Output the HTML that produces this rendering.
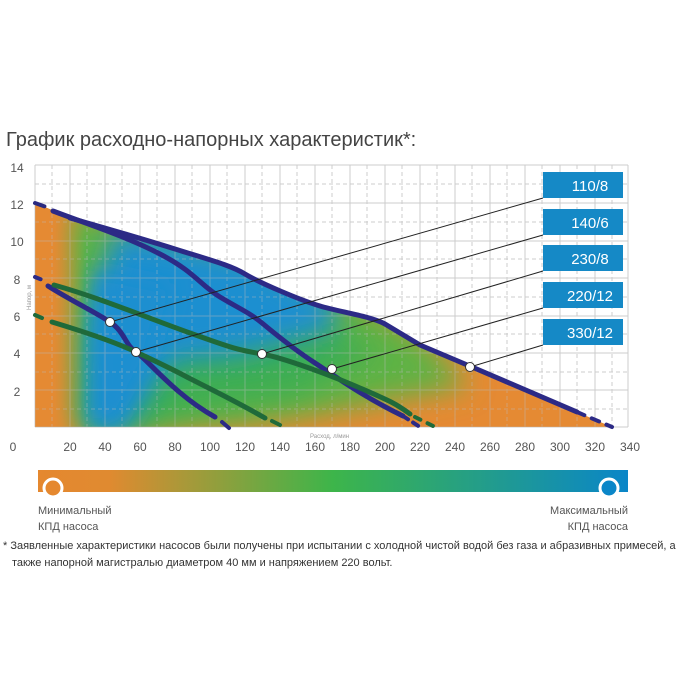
<!DOCTYPE html>
<html><head><meta charset="utf-8"><style>
html,body{margin:0;padding:0;background:#fff;}
body{width:700px;height:700px;position:relative;overflow:hidden;font-family:"Liberation Sans","DejaVu Sans",sans-serif;}
svg{position:absolute;left:0;top:0;}
</style></head><body>
<svg width="700" height="700" viewBox="0 0 700 700" xmlns="http://www.w3.org/2000/svg">
<defs>
<clipPath id="reg"><path d="M35,203 L52,210 L70,217 L105,228 L140,238 L175,249 L210,261 L245,274 L280,291 L315,305 L350,315 L385,324 L420,345 L472,367 L525,390 L577,412 L612,427 L35,427 Z"/></clipPath>
<filter id="bl" x="-50%" y="-50%" width="200%" height="200%"><feGaussianBlur stdDeviation="14"/></filter>
<filter id="bl2" x="-50%" y="-50%" width="200%" height="200%"><feGaussianBlur stdDeviation="10"/></filter>
<linearGradient id="lg" x1="35" y1="0" x2="85" y2="0" gradientUnits="userSpaceOnUse"><stop offset="0" stop-color="#e58a33" stop-opacity="1"/><stop offset="0.35" stop-color="#e58a33" stop-opacity="1"/><stop offset="1" stop-color="#e58a33" stop-opacity="0"/></linearGradient>
<linearGradient id="bar" x1="0" y1="0" x2="1" y2="0"><stop offset="0" stop-color="#e5882f"/><stop offset="0.12" stop-color="#e08a30"/><stop offset="0.5" stop-color="#3db54a"/><stop offset="1" stop-color="#0a86c8"/></linearGradient>
<g id="grid">
<g stroke-width="1">
<line x1="35" y1="165" x2="628" y2="165"/><line x1="35" y1="203" x2="628" y2="203"/><line x1="35" y1="241" x2="628" y2="241"/><line x1="35" y1="278" x2="628" y2="278"/><line x1="35" y1="316" x2="628" y2="316"/><line x1="35" y1="353" x2="628" y2="353"/><line x1="35" y1="390" x2="628" y2="390"/><line x1="35" y1="427" x2="628" y2="427"/>
<line x1="35" y1="165" x2="35" y2="427"/><line x1="70" y1="165" x2="70" y2="427"/><line x1="105" y1="165" x2="105" y2="427"/><line x1="140" y1="165" x2="140" y2="427"/><line x1="175" y1="165" x2="175" y2="427"/><line x1="210" y1="165" x2="210" y2="427"/><line x1="245" y1="165" x2="245" y2="427"/><line x1="280" y1="165" x2="280" y2="427"/><line x1="315" y1="165" x2="315" y2="427"/><line x1="350" y1="165" x2="350" y2="427"/><line x1="385" y1="165" x2="385" y2="427"/><line x1="420" y1="165" x2="420" y2="427"/><line x1="455" y1="165" x2="455" y2="427"/><line x1="490" y1="165" x2="490" y2="427"/><line x1="525" y1="165" x2="525" y2="427"/><line x1="560" y1="165" x2="560" y2="427"/><line x1="595" y1="165" x2="595" y2="427"/><line x1="628" y1="165" x2="628" y2="427"/>
</g>
<g stroke-width="1" stroke-dasharray="4,3">
<line x1="35" y1="184" x2="628" y2="184"/><line x1="35" y1="222" x2="628" y2="222"/><line x1="35" y1="259" x2="628" y2="259"/><line x1="35" y1="297" x2="628" y2="297"/><line x1="35" y1="334" x2="628" y2="334"/><line x1="35" y1="372" x2="628" y2="372"/><line x1="35" y1="409" x2="628" y2="409"/>
<line x1="52" y1="165" x2="52" y2="427"/><line x1="87" y1="165" x2="87" y2="427"/><line x1="122" y1="165" x2="122" y2="427"/><line x1="157" y1="165" x2="157" y2="427"/><line x1="192" y1="165" x2="192" y2="427"/><line x1="227" y1="165" x2="227" y2="427"/><line x1="262" y1="165" x2="262" y2="427"/><line x1="297" y1="165" x2="297" y2="427"/><line x1="332" y1="165" x2="332" y2="427"/><line x1="367" y1="165" x2="367" y2="427"/><line x1="402" y1="165" x2="402" y2="427"/><line x1="437" y1="165" x2="437" y2="427"/><line x1="472" y1="165" x2="472" y2="427"/><line x1="507" y1="165" x2="507" y2="427"/><line x1="542" y1="165" x2="542" y2="427"/><line x1="577" y1="165" x2="577" y2="427"/><line x1="612" y1="165" x2="612" y2="427"/>
</g>
</g>
</defs>
<text x="6" y="146" font-size="20" fill="#444">График расходно-напорных характеристик*:</text>
<use href="#grid" stroke="#ccc"/>
<g clip-path="url(#reg)">
<rect x="35" y="165" width="600" height="270" fill="#e58a33"/>
<polygon points="55,205 300,270 420,335 470,385 330,412 240,425 110,430 60,430 55,330" fill="#5fb244" filter="url(#bl)"/>
<polygon points="85,300 300,320 380,350 300,395 200,410 130,430 80,430" fill="#3cae52" filter="url(#bl)"/>
<polygon points="115,228 250,255 335,300 335,330 240,355 170,362 125,430 90,430 88,340 100,280" fill="#1a8fd0" filter="url(#bl)"/>
<polygon points="95,270 170,285 150,360 118,425 92,425" fill="#1a8fd0" filter="url(#bl2)"/>
<rect x="35" y="165" width="50" height="270" fill="url(#lg)"/>
<use href="#grid" stroke="#bbb" opacity="0.45"/>
</g>
<g fill="none" stroke-linecap="round" stroke-linejoin="round">
<path d="M35,203 L49,208" stroke="#2a2a80" stroke-width="4" stroke-dasharray="10,6"/>
<path d="M70,218 C105,228 140,238 175,249 S230,265 245,274 S300,300 320,306 S370,316 385,324 L420,345 L472,367 L577,412" stroke="#2c2a86" stroke-width="5"/>
<path d="M577,412 L612,427" stroke="#2c2a86" stroke-width="4" stroke-dasharray="8,8"/>
<path d="M53,211 C90,225 125,236 160,254 S200,285 220,297 S250,313 262,323 S295,350 315,363 S360,395 403,416" stroke="#2c2a86" stroke-width="5"/>
<path d="M403,416 L420,427" stroke="#2c2a86" stroke-width="4" stroke-dasharray="6,6"/>
<path d="M35,277 L45,281" stroke="#2c2a86" stroke-width="4" stroke-dasharray="6,5"/>
<path d="M48,286 C70,300 95,312 110,322 S125,345 136,352 S175,395 215,417" stroke="#2c2a86" stroke-width="5"/>
<path d="M222,422 L229,428" stroke="#2c2a86" stroke-width="4"/>
<path d="M54,285 C100,298 140,315 190,333 S240,350 262,354 S330,375 360,388 S395,403 410,414" stroke="#1f6a3a" stroke-width="5"/>
<path d="M415,417 L437,428" stroke="#1f6a3a" stroke-width="4" stroke-dasharray="6,8"/>
<path d="M35,315 L42,318" stroke="#1f6a3a" stroke-width="4"/>
<path d="M52,322 C85,332 115,342 136,352 S170,368 185,376 S230,398 265,418" stroke="#1f6a3a" stroke-width="5"/>
<path d="M272,421 L280,425" stroke="#1f6a3a" stroke-width="4"/>
</g>
<g stroke="#222" stroke-width="1">
<line x1="110" y1="322" x2="543" y2="198"/><line x1="136" y1="352" x2="543" y2="235"/><line x1="262" y1="354" x2="543" y2="271"/><line x1="332" y1="369" x2="543" y2="308"/><line x1="470" y1="367" x2="543" y2="345"/>
</g>
<g fill="#fff" stroke="#333" stroke-width="1"><circle cx="110" cy="322" r="4.5"/><circle cx="136" cy="352" r="4.5"/><circle cx="262" cy="354" r="4.5"/><circle cx="332" cy="369" r="4.5"/><circle cx="470" cy="367" r="4.5"/></g>
<g fill="#1589c6"><rect x="543" y="172" width="80" height="26"/><rect x="543" y="209" width="80" height="26"/><rect x="543" y="245" width="80" height="26"/><rect x="543" y="282" width="80" height="26"/><rect x="543" y="319" width="80" height="26"/></g>
<g fill="#fff" font-size="15" text-anchor="middle"><text x="590" y="191">110/8</text><text x="590" y="228">140/6</text><text x="590" y="264">230/8</text><text x="590" y="301">220/12</text><text x="590" y="338">330/12</text></g>
<g fill="#555" font-size="12" text-anchor="middle">
<text x="17" y="172">14</text><text x="17" y="209">12</text><text x="17" y="246">10</text><text x="17" y="284">8</text><text x="17" y="321">6</text><text x="17" y="358">4</text><text x="17" y="396">2</text>
<text x="13" y="451">0</text><text x="70" y="451">20</text><text x="105" y="451">40</text><text x="140" y="451">60</text><text x="175" y="451">80</text><text x="210" y="451">100</text><text x="245" y="451">120</text><text x="280" y="451">140</text><text x="315" y="451">160</text><text x="350" y="451">180</text><text x="385" y="451">200</text><text x="420" y="451">220</text><text x="455" y="451">240</text><text x="490" y="451">260</text><text x="525" y="451">280</text><text x="560" y="451">300</text><text x="595" y="451">320</text><text x="630" y="451">340</text>
</g>
<text x="310" y="438" font-size="6" fill="#999">Расход, л/мин</text>
<text transform="translate(31,310) rotate(-90)" font-size="6" fill="#999">Напор, м</text>
<rect x="38" y="470" width="590" height="22" fill="url(#bar)"/>
<circle cx="53" cy="488" r="9" fill="#e5882f" stroke="#fff" stroke-width="3"/>
<circle cx="609" cy="488" r="9" fill="#0a86c8" stroke="#fff" stroke-width="3"/>
<g font-size="11" fill="#555"><text x="38" y="514">Минимальный</text><text x="38" y="530">КПД насоса</text>
<text x="628" y="514" text-anchor="end">Максимальный</text><text x="628" y="530" text-anchor="end">КПД насоса</text></g>
<g font-size="11" fill="#333"><text x="3" y="549">* Заявленные характеристики насосов были получены при испытании с холодной чистой водой без газа и абразивных примесей, а</text><text x="12" y="566">также напорной магистралью диаметром 40 мм и напряжением 220 вольт.</text></g>
</svg>
</body></html>
